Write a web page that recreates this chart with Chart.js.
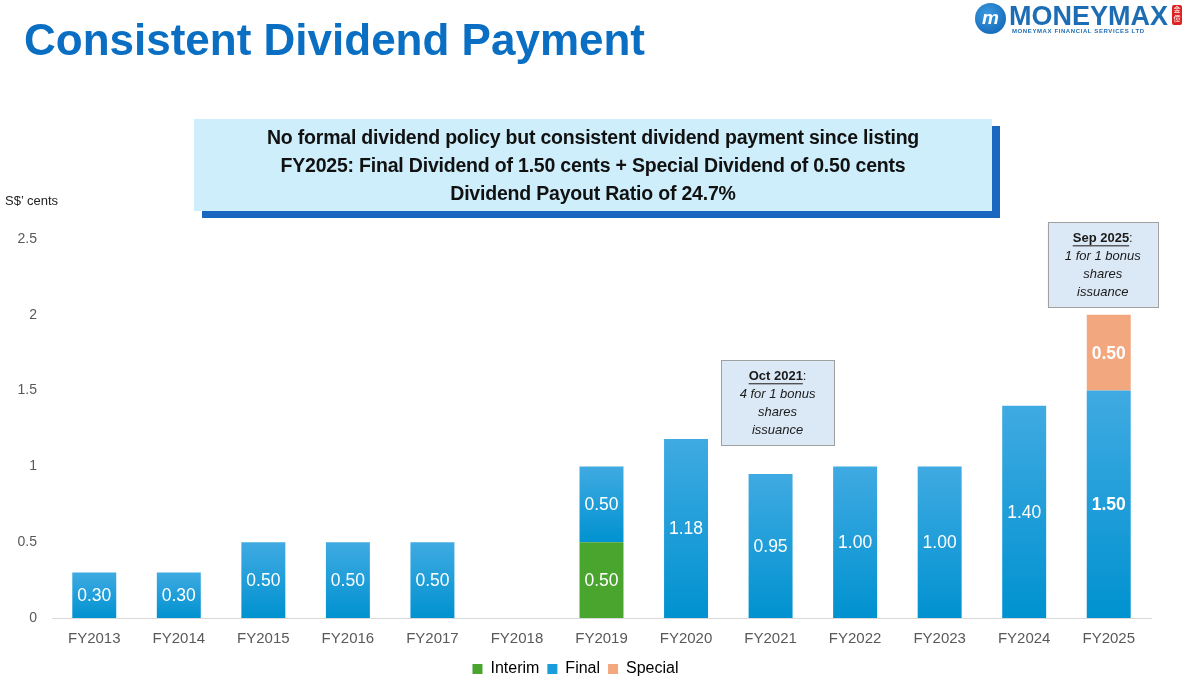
<!DOCTYPE html>
<html>
<head>
<meta charset="utf-8">
<script src="https://cdn.jsdelivr.net/npm/chart.js@4"></script>
<style>
  html, body { margin: 0; padding: 0; background: #fff; }
  body { width: 1189px; height: 687px; position: relative; overflow: hidden; font-family: "Liberation Sans", Arial, sans-serif; }
  #chartBox { position: absolute; left: 0; top: 0; width: 1189px; height: 687px; }
  .title { position: absolute; left: 24px; top: 15px; font-size: 44px; font-weight: bold; color: #0a6fc2; letter-spacing: 0; }
  .banner { position: absolute; left: 194px; top: 119px; width: 798px; height: 92px; background: #cdeefa;
            box-shadow: 8px 7px 0 #1a67c0; text-align: center; font-weight: bold; font-size: 19.5px; line-height: 28px;
            color: #111; padding-top: 4px; box-sizing: border-box; letter-spacing: -0.2px; }
  .unit { position: absolute; left: 5px; top: 193px; font-size: 13px; color: #222; }
  .logo { position: absolute; left: 973px; top: 2px; width: 215px; height: 40px; }
  .logo .circ { position: absolute; left: 2px; top: 1px; width: 31px; height: 31px; border-radius: 50%;
                background: radial-gradient(circle at 40% 35%, #3c9ae0, #0b5fb0); color: #fff; font-weight: bold;
                font-style: italic; font-size: 19px; text-align: center; line-height: 30px; }
  .logo .name { position: absolute; left: 36px; top: -1px; font-size: 27px; font-weight: bold; color: #1d6db4; letter-spacing: 0; }
  .logo .sub { position: absolute; left: 39px; top: 26px; font-size: 6px; font-weight: bold; color: #1d6db4; letter-spacing: 0.6px; }
  .logo .red { position: absolute; left: 199px; top: 3px; width: 10px; height: 20px; background: #d22; border-radius: 2px;
               color: #fff; font-size: 7px; line-height: 9px; text-align: center; font-family: "Noto Sans CJK SC"; }
</style>
</head>
<body>
<div id="chartBox"><canvas id="chart"></canvas></div>
<div class="title">Consistent Dividend Payment</div>
<div class="logo">
  <div class="circ">m</div>
  <div class="name">MONEYMAX</div>
  <div class="sub">MONEYMAX FINANCIAL SERVICES LTD</div>
  <div class="red">金<br>億</div>
</div>
<div class="banner">
  No formal dividend policy but consistent dividend payment since listing<br>
  FY2025: Final Dividend of 1.50 cents + Special Dividend of 0.50 cents<br>
  Dividend Payout Ratio of 24.7%
</div>
<div class="unit">S$’ cents</div>
<script>
const years = ['FY2013', 'FY2014', 'FY2015', 'FY2016', 'FY2017', 'FY2018', 'FY2019',
               'FY2020', 'FY2021', 'FY2022', 'FY2023', 'FY2024', 'FY2025'];
const interim = [0, 0, 0, 0, 0, 0, 0.50, 0, 0, 0, 0, 0, 0];
const finalDiv = [0.30, 0.30, 0.50, 0.50, 0.50, 0, 0.50, 1.18, 0.95, 1.00, 1.00, 1.40, 1.50];
const special = [0, 0, 0, 0, 0, 0, 0, 0, 0, 0, 0, 0, 0.50];
const yTicks = [0, 0.5, 1, 1.5, 2, 2.5];

// notes placed above bars (value range of the box, px width, px shift)
const notes = [
  { idx: 8, top: 1.70, bottom: 1.14, width: 113, shift: 7, head: 'Oct 2021', lines: ['4 for 1 bonus', 'shares', 'issuance'] },
  { idx: 12, top: 2.61, bottom: 2.05, width: 110, shift: -6, head: 'Sep 2025', lines: ['1 for 1 bonus', 'shares', 'issuance'] }
];

const greyText = '#595959';
const FONT = '"Liberation Sans", Arial, sans-serif';

// blue bars get a light-to-dark gradient per bar
function blueFill(ctx) {
  const chart = ctx.chart;
  const area = chart.chartArea;
  if (!area || ctx.type !== 'data') return '#0f9ad8';
  const y = chart.scales.y;
  const i = ctx.dataIndex;
  const start = interim[i];
  const end = start + finalDiv[i];
  const top = y.getPixelForValue(end);
  const bot = y.getPixelForValue(start);
  if (!(bot > top)) return '#0f9ad8';
  const g = chart.ctx.createLinearGradient(0, top, 0, bot);
  g.addColorStop(0, '#40aae2');
  g.addColorStop(1, '#0092d0');
  return g;
}

const valueLabels = {
  id: 'valueLabels',
  afterDatasetsDraw(chart) {
    const c = chart.ctx;
    c.save();
    c.textAlign = 'center';
    c.textBaseline = 'middle';
    c.fillStyle = '#ffffff';
    chart.data.datasets.forEach((ds, di) => {
      const meta = chart.getDatasetMeta(di);
      meta.data.forEach((el, i) => {
        const v = ds.data[i];
        if (!v) return;
        const bold = i === years.length - 1;
        c.font = (bold ? 'bold ' : '') + '17.5px ' + FONT;
        c.fillText(v.toFixed(2), el.x, (el.y + el.base) / 2 + 1);
      });
    });
    c.restore();
  }
};

const noteBoxes = {
  id: 'noteBoxes',
  afterDraw(chart) {
    const c = chart.ctx;
    const xs = chart.scales.x, ys = chart.scales.y;
    c.save();
    notes.forEach(n => {
      const cx = xs.getPixelForValue(n.idx) + n.shift;
      const t = ys.getPixelForValue(n.top);
      const b = ys.getPixelForValue(n.bottom);
      const l = cx - n.width / 2;
      c.fillStyle = '#dbe8f5';
      c.fillRect(l, t, n.width, b - t);
      c.strokeStyle = '#a0a0a0';
      c.lineWidth = 1;
      c.strokeRect(Math.round(l) + 0.5, Math.round(t) + 0.5, Math.round(n.width), Math.round(b - t));
      c.fillStyle = '#1a1a1a';
      c.textBaseline = 'middle';
      // heading: bold underlined + ':'
      c.font = 'bold 13px ' + FONT;
      const hw = c.measureText(n.head).width;
      c.font = '13px ' + FONT;
      const cw = c.measureText(':').width;
      const hx = cx - (hw + cw) / 2;
      const hy = t + 16;
      c.textAlign = 'left';
      c.font = 'bold 13px ' + FONT;
      c.fillText(n.head, hx, hy);
      c.fillRect(hx, hy + 7, hw, 1);
      c.font = '13px ' + FONT;
      c.fillText(':', hx + hw, hy);
      c.textAlign = 'center';
      c.font = 'italic 13px ' + FONT;
      n.lines.forEach((ln, k) => c.fillText(ln, cx, hy + 18 * (k + 1)));
    });
    c.restore();
  }
};

new Chart(document.getElementById('chart'), {
  type: 'bar',
  data: {
    labels: years,
    datasets: [
      { label: 'Interim', data: interim, backgroundColor: '#4aa52e' },
      { label: 'Final', data: finalDiv, backgroundColor: blueFill },
      { label: 'Special', data: special, backgroundColor: '#f3a77f' }
    ]
  },
  options: {
    responsive: true,
    maintainAspectRatio: false,
    animation: false,
    datasets: { bar: { barPercentage: 0.52, categoryPercentage: 1 } },
    layout: { padding: { left: 0, top: 239, right: 38, bottom: 0 } },
    plugins: {
      tooltip: { enabled: false },
      legend: {
        position: 'bottom',
        labels: {
          boxWidth: 10, boxHeight: 10, padding: 8, color: greyText,
          font: { size: 16, family: FONT },
          generateLabels(chart) {
            const cols = ['#4aa52e', '#1a9ddb', '#f3a77f'];
            return chart.data.datasets.map((ds, i) => ({
              text: ds.label, fillStyle: cols[i], strokeStyle: cols[i], lineWidth: 0, datasetIndex: i, hidden: false
            }));
          }
        }
      }
    },
    scales: {
      x: {
        stacked: true,
        grid: { display: false, drawTicks: false },
        border: { display: true, color: '#d9d9d9', width: 1 },
        ticks: { color: greyText, padding: 12, font: { size: 15, family: FONT } },
        afterFit(scale) { scale.height = 35; }
      },
      y: {
        stacked: true,
        min: 0,
        max: 2.5,
        grid: { display: false, drawTicks: false },
        border: { display: false },
        afterBuildTicks(scale) { scale.ticks = yTicks.map(v => ({ value: v })); },
        ticks: {
          color: greyText, padding: 15,
          font: { size: 14, family: FONT },
          callback: v => String(v)
        },
        afterFit(scale) { scale.width = 52; }
      }
    }
  },
  plugins: [valueLabels, noteBoxes]
});
</script>
</body>
</html>
